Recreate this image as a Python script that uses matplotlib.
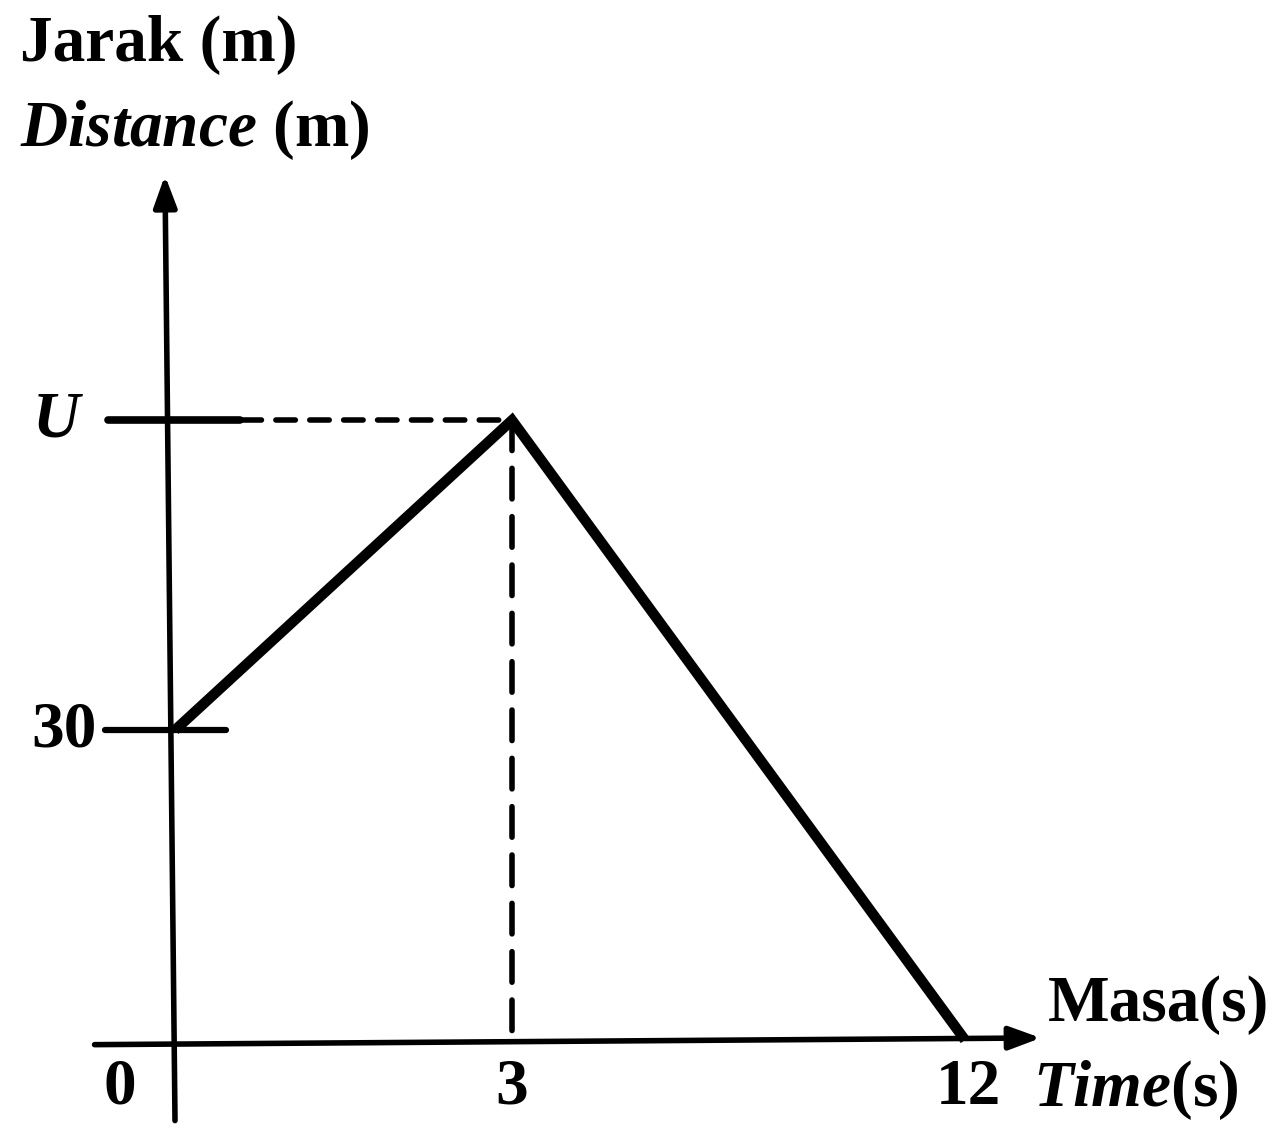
import numpy as np
import matplotlib
matplotlib.use("Agg")
import matplotlib.pyplot as plt

# jarak-masa graf
masa = [0, 3, 12]
jarak = [30, 60, 0]          # 60 stands in for U (unknown)
ytick_vals = [30, 60]
ytick_labels = ["30", "U"]
xtick_vals = [0, 3, 12]
xtick_labels = ["0", "3", "12"]

# x axis is drawn schematically (not to scale), so use a piecewise scale
T_KNOTS = [-2.0, 0.0, 3.0, 12.0, 20.0]
P_KNOTS = [175 - 2 * 111.7, 175.0, 512.0, 965.0, 965 + 8 * 50.56]


def fwd(x):
    return np.interp(x, T_KNOTS, P_KNOTS)


def inv(p):
    return np.interp(p, P_KNOTS, T_KNOTS)


plt.rcParams['font.family'] = ['Liberation Serif', 'DejaVu Serif']
plt.rcParams['mathtext.fontset'] = 'custom'
plt.rcParams['mathtext.it'] = 'Liberation Serif:italic:bold'
plt.rcParams['mathtext.rm'] = 'Liberation Serif:bold'

fig = plt.figure(figsize=(12.86, 11.28), dpi=100)
ax = fig.add_axes([0, 0, 1, 1])
ax.set_xscale('function', functions=(fwd, inv))
ax.set_xlim(inv(0), inv(1286))
py = 10.33  # pixels per metre
ax.set_ylim(-88 / py, (1128 - 88) / py)
ax.axis('off')

lw_axis = 4
# axes with arrow heads
ax.annotate('', xy=(-0.09, 83.7), xytext=(0.0, -7.8),
            arrowprops=dict(arrowstyle='-|>,head_length=1.9,head_width=0.7',
                            lw=lw_axis, color='black', shrinkA=0, shrinkB=0))
ax.annotate('', xy=(13.5, 0.2), xytext=(-0.72, -0.45),
            arrowprops=dict(arrowstyle='-|>,head_length=1.9,head_width=0.7',
                            lw=lw_axis, color='black', shrinkA=0, shrinkB=0))

# tick marks on y axis
ax.plot([-0.6, 0.58], [60, 60], color='black', lw=5.5, solid_capstyle='round')
ax.plot([-0.63, 0.45], [30, 30], color='black', lw=4.5, solid_capstyle='round')

# guide lines to the peak
ax.plot([0.6, masa[1]], [jarak[1], jarak[1]], color='black', lw=4,
        dashes=(3.5, 2.6), dash_capstyle='round')
ax.plot([masa[1], masa[1]], [jarak[1], 0], color='black', lw=4,
        dashes=(5.5, 3.2), dash_capstyle='round')

# the graph itself
ax.plot(masa, jarak, color='black', lw=7.5, solid_joinstyle='miter',
        solid_capstyle='butt')

fs = 47
ytick_x = {"30": 97, "U": 80}
for v, lab in zip(ytick_vals, ytick_labels):
    ax.text(inv(ytick_x[lab]), v, lab, ha='right', va='center', fontsize=fs,
            fontweight='bold', style='italic' if lab == "U" else 'normal')
xtick_px = {0: 120, 3: 512, 12: 968}
for v, lab in zip(xtick_vals, xtick_labels):
    ax.text(inv(xtick_px[v]), -4.6, lab, ha='center', va='center',
            fontsize=fs, fontweight='bold')

# axis titles
ax.text(inv(20), (1040 - 45) / py, "Jarak (m)", ha='left', va='center',
        fontsize=fs, fontweight='bold')
ax.text(inv(20), (1040 - 130) / py, r"$\it{Distance}$ (m)", ha='left',
        va='center', fontsize=fs, fontweight='bold')
ax.text(inv(1048), (1040 - 1005) / py, "Masa(s)", ha='left', va='center',
        fontsize=fs, fontweight='bold')
ax.text(inv(1033), (1040 - 1090) / py, r"$\it{Time}$(s)", ha='left',
        va='center', fontsize=fs, fontweight='bold')

fig.savefig("out.png", dpi=100, facecolor='white')
